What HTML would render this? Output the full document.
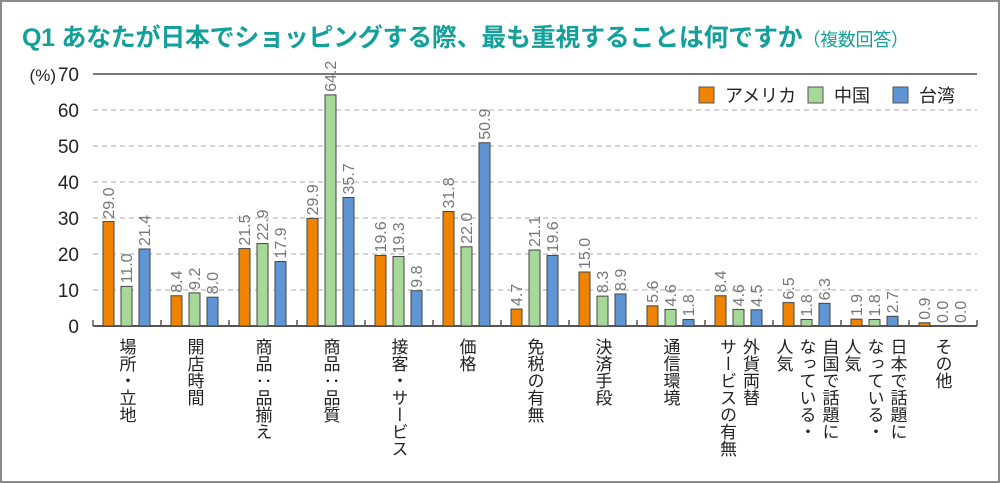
<!DOCTYPE html>
<html><head><meta charset="utf-8">
<style>
html,body{margin:0;padding:0;background:#fff;}
body{width:1000px;height:483px;position:relative;overflow:hidden;font-family:"Liberation Sans","Noto Sans CJK JP",sans-serif;}
#frame{position:absolute;left:0;top:0;width:996px;height:479px;border:2px solid #8a8a8a;}
#title{position:absolute;left:22px;top:18px;color:#14a09a;font-weight:bold;font-size:25px;white-space:nowrap;letter-spacing:-0.3px;}
#title small{font-size:18px;font-weight:normal;}
.cat{position:absolute;top:338px;writing-mode:vertical-rl;font-size:17px;line-height:23px;color:#222;transform:translateX(-50%);white-space:nowrap;}
</style></head><body>
<div id="frame"></div>
<div id="title">Q1 あなたが日本でショッピングする際、最も重視することは何ですか<small>（複数回答）</small></div>
<svg id="chart" width="1000" height="483" style="position:absolute;left:0;top:0"></svg>
<div id="cats"></div>
<script>
const categories=["場所・立地","開店時間","商品：品揃え","商品：品質","接客・サービス","価格","免税の有無","決済手段","通信環境","外貨両替<br>サービスの有無","自国で話題に<br>なっている・<br>人気","日本で話題に<br>なっている・<br>人気","その他"];
const usa=[29.0,8.4,21.5,29.9,19.6,31.8,4.7,15.0,5.6,8.4,6.5,1.9,0.9];
const china=[11.0,9.2,22.9,64.2,19.3,22.0,21.1,8.3,4.6,4.6,1.8,1.8,0.0];
const taiwan=[21.4,8.0,17.9,35.7,9.8,50.9,19.6,8.9,1.8,4.5,6.3,2.7,0.0];
const yTicks=[0,10,20,30,40,50,60,70];
const seriesNames=["アメリカ","中国","台湾"];

const NS="http://www.w3.org/2000/svg";
const svg=document.getElementById('chart');
const x0=93,x1=977,y0=326,yTop=74,ymax=70;
const pitch=(x1-x0)/categories.length;
const colors=["#f08300","#a6d898","#5e95d4"];
function y(v){return y0-(v/ymax)*(y0-yTop);}
function mk(tag,attrs){const e=document.createElementNS(NS,tag);for(const k in attrs)e.setAttribute(k,attrs[k]);svg.appendChild(e);return e;}
yTicks.forEach(t=>{
  if(t>0){const l=mk('line',{x1:x0,x2:x1,y1:y(t),y2:y(t),stroke:t===ymax?'#777':'#bbb','stroke-width':t===ymax?2:1.3,'stroke-dasharray':t===ymax?'':'5,4'});
  
  }
  const tx=mk('text',{x:79,y:y(t)+7,'text-anchor':'end','font-size':19,fill:'#222','font-family':'Liberation Sans, sans-serif'});
  tx.textContent=t;
  
  
});
const pct=mk('text',{x:56,y:y(70)+7,'text-anchor':'end','font-size':17,fill:'#222'});
pct.textContent='(%)';


const ax=mk('line',{x1:x0,x2:x1,y1:y0,y2:y0,stroke:'#555','stroke-width':2});


for(let i=0;i<=categories.length;i++){
  const tk=mk('line',{x1:x0+i*pitch,x2:x0+i*pitch,y1:y0,y2:y0-6,stroke:'#555','stroke-width':1.5});
  
  
}
const series=[usa,china,taiwan];
categories.forEach((c,i)=>{
  series.forEach((s,j)=>{
    const v=s[i];const bx=x0+i*pitch+10+j*18;
    const r=mk('rect',{x:bx,y:y(v),width:11,height:Math.max(0,y0-y(v)),fill:colors[j],stroke:'#444','stroke-width':1});
    
    
    const tx=bx+5.5+5.5,ty=y(v)-3;
    const t=mk('text',{x:tx,y:ty,transform:`rotate(-90 ${tx} ${ty})`,'font-size':16,fill:'#777','font-family':'Liberation Sans, sans-serif'});
    t.textContent=v.toFixed(1);
    
    
  });
  const d=document.createElement('div');
  d.className='cat';
  d.style.left=(x0+i*pitch+33)+'px';
  d.innerHTML=c;
  
  
  document.getElementById('cats').appendChild(d);
});
const lx=[699,808,893];
seriesNames.forEach((n,j)=>{
  const r=mk('rect',{x:lx[j],y:87,width:15,height:16,fill:colors[j],stroke:'#555','stroke-width':1});
  
  
  const t=mk('text',{x:lx[j]+26,y:102,'font-size':18,fill:'#222'});
  t.textContent=n;
  
  
});
</script>
</body></html>
